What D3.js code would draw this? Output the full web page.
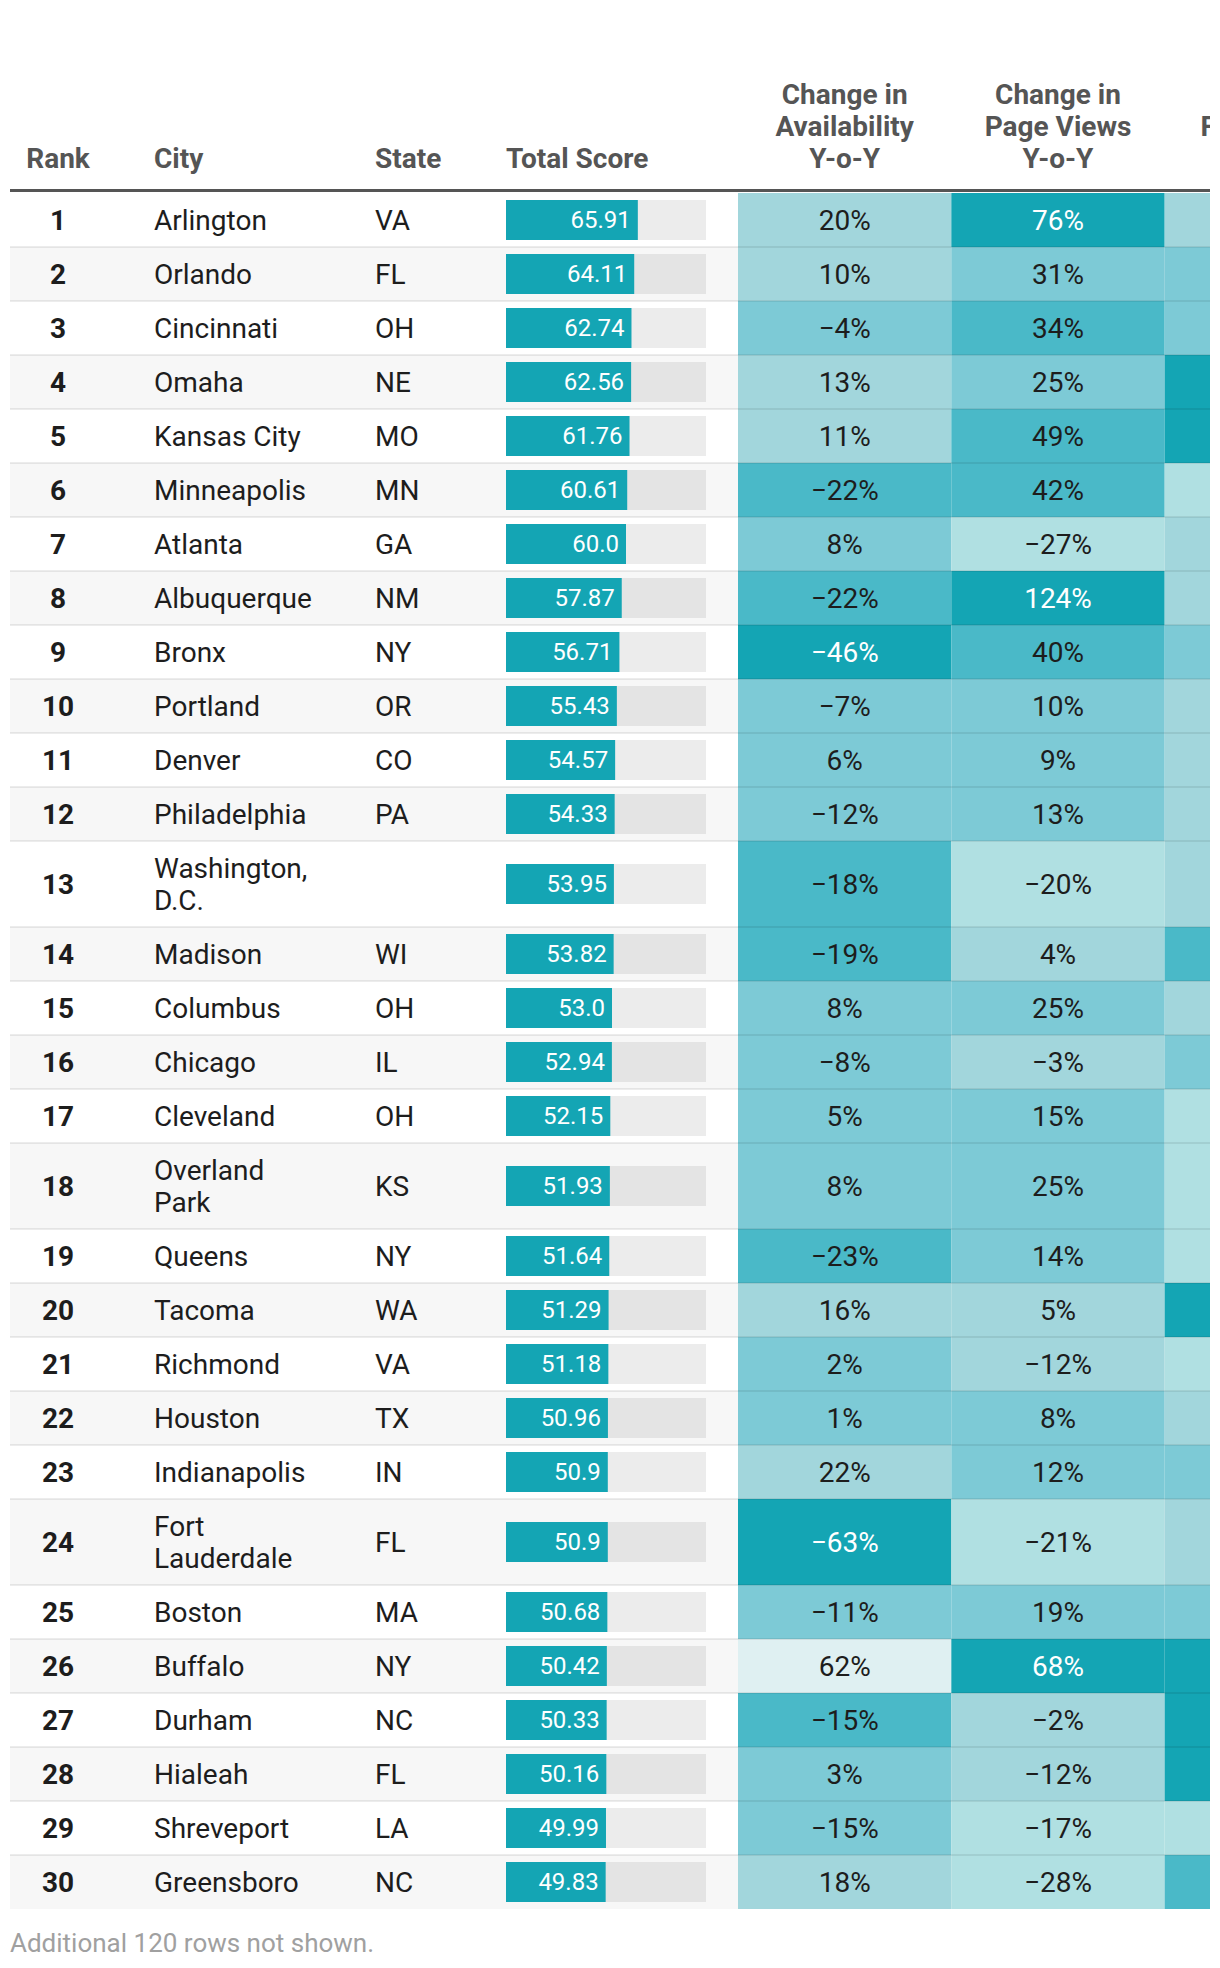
<!DOCTYPE html>
<html>
<head>
<meta charset="utf-8">
<script src="https://cdn.jsdelivr.net/npm/d3@7"></script>
<style>
  body { margin: 0; background: #ffffff; }
  svg { display: block; font-family: Roboto, "Noto Sans", "Liberation Sans", sans-serif; }
</style>
</head>
<body>
<svg id="chart" width="1220" height="1968"></svg>
<script>
// ---------------- data ----------------
const ranks = [1,2,3,4,5,6,7,8,9,10,11,12,13,14,15,16,17,18,19,20,21,22,23,24,25,26,27,28,29,30];
const cities = ["Arlington","Orlando","Cincinnati","Omaha","Kansas City","Minneapolis","Atlanta","Albuquerque","Bronx","Portland","Denver","Philadelphia","Washington, D.C.","Madison","Columbus","Chicago","Cleveland","Overland Park","Queens","Tacoma","Richmond","Houston","Indianapolis","Fort Lauderdale","Boston","Buffalo","Durham","Hialeah","Shreveport","Greensboro"];
const states = ["VA","FL","OH","NE","MO","MN","GA","NM","NY","OR","CO","PA","","WI","OH","IL","OH","KS","NY","WA","VA","TX","IN","FL","MA","NY","NC","FL","LA","NC"];
const totalScores = [65.91,64.11,62.74,62.56,61.76,60.61,60.0,57.87,56.71,55.43,54.57,54.33,53.95,53.82,53.0,52.94,52.15,51.93,51.64,51.29,51.18,50.96,50.9,50.9,50.68,50.42,50.33,50.16,49.99,49.83];
const availabilityChange = [20,10,-4,13,11,-22,8,-22,-46,-7,6,-12,-18,-19,8,-8,5,8,-23,16,2,1,22,-63,-11,62,-15.4,3,-14.6,18];
const pageViewsChange = [76,31,34,25,49,42,-27,124,40,10,9,13,-20,4,25,-3,15,25,14,5,-12,8,12,-21,19,68,-2,-12,-17,-28];
// third column is cut off at the right edge; values estimated from the visible cell shades only
const favoritesChange = [2,18,12,71,64,-22,-6,1,20,-3,4,-9,0,38,-1,9,-18,-25,-19,88,-30,3,15,-8,22,60,77,59,-17,45];
const headers = [
  {key:"rank", lines:["Rank"]},
  {key:"city", lines:["City"]},
  {key:"state", lines:["State"]},
  {key:"score", lines:["Total Score"]},
  {key:"avail", lines:["Change in","Availability","Y-o-Y"]},
  {key:"pv", lines:["Change in","Page Views","Y-o-Y"]},
  {key:"fav", lines:["Change in","Favorite Ads","Y-o-Y"]}
];
const footnote = "Additional 120 rows not shown.";

// ---------------- setup ----------------
const left = 10, right = 1210;
const svg = d3.select("#chart");
svg.append("defs").append("clipPath").attr("id","clip")
  .append("rect").attr("x", left).attr("y", 0).attr("width", right-left).attr("height", 1968);
const g = svg.append("g").attr("clip-path","url(#clip)");

const pal = {c0:"#dff0f2", c1:"#b0e0e2", c2:"#a2d6dc", c3:"#7dcad6", c4:"#4ab9c8", c5:"#14a5b4"};
const availColor = d3.scaleThreshold().domain([-30,-15,9,30,50]).range([pal.c5,pal.c4,pal.c3,pal.c2,pal.c1,pal.c0]);
const growthColor = d3.scaleThreshold().domain([-15,6,33,55]).range([pal.c1,pal.c2,pal.c3,pal.c4,pal.c5]);
const pct = d3.format(".0f");
const scoreFmt = v => Number.isInteger(v) ? v.toFixed(1) : String(v);

const xScore = d3.scaleLinear().domain([0,100]).range([506,706]);
const heatKeys = ["avail","pv","fav"];
const xHeat = d3.scaleBand().domain(heatKeys).range([738,1378]);
const headNudge = {avail:0, pv:0, fav:8};
const colX = {rank:58, city:154, state:375, score:506};

const bodySize = 28, lineH = 32, rowPad = 22, headerBottom = 191;

// measure & wrap city names
const meas = svg.append("text").attr("font-size", bodySize).attr("visibility","hidden");
function wrap(str, maxW) {
  const words = str.split(" ");
  const lines = [];
  let cur = "";
  words.forEach(w => {
    const test = cur ? cur + " " + w : w;
    meas.text(test);
    if (cur && meas.node().getComputedTextLength() > maxW) { lines.push(cur); cur = w; }
    else cur = test;
  });
  if (cur) lines.push(cur);
  return lines;
}

const rows = ranks.map((r,i) => ({
  rank:r, city:cities[i], cityLines:wrap(cities[i], 168), state:states[i], score:totalScores[i],
  avail:availabilityChange[i], pv:pageViewsChange[i], fav:favoritesChange[i]
}));
meas.remove();

let yCur = headerBottom + 2;
rows.forEach(d => { d.h = d.cityLines.length*lineH + rowPad; d.y = yCur; yCur += d.h; });
const tableBottom = yCur;

// ---------------- header ----------------
const headG = g.append("g").attr("fill","#555555").attr("font-weight",700).attr("font-size",28);
const headLineY = [94,126,158];
headers.forEach(h => {
  let x, anchor = "start";
  if (h.key === "rank") { x = colX.rank; anchor = "middle"; }
  else if (heatKeys.includes(h.key)) { x = xHeat(h.key) + xHeat.bandwidth()/2 + headNudge[h.key]; anchor = "middle"; }
  else x = colX[h.key];
  const n = h.lines.length;
  h.lines.forEach((ln,j) => {
    headG.append("text").attr("x",x).attr("y",headLineY[3-n+j]).attr("dy","0.35em")
      .attr("text-anchor",anchor).text(ln);
  });
});
g.append("rect").attr("x",left).attr("y",headerBottom-2).attr("width",right-left).attr("height",3).attr("fill","#555555");

// ---------------- rows ----------------
const rowG = g.selectAll("g.row").data(rows).join("g").attr("class","row")
  .attr("transform", d => `translate(0,${d.y})`);

rowG.append("rect").attr("x",left).attr("width",right-left).attr("height",d=>d.h)
  .attr("fill",(d,i)=> i%2===1 ? "#f7f7f7" : "#ffffff");

// heat cells
heatKeys.forEach(k => {
  const cf = k === "avail" ? availColor : growthColor;
  rowG.append("rect").attr("x",xHeat(k)).attr("width",xHeat.bandwidth()).attr("height",d=>d.h)
    .attr("fill",d=>cf(d[k]));
  if (k === "fav") return; // labels of this column lie beyond the visible edge
  rowG.append("text").attr("x",xHeat(k)+xHeat.bandwidth()/2).attr("y",d=>d.h/2).attr("dy","0.35em")
    .attr("text-anchor","middle").attr("font-size",bodySize)
    .attr("fill",d=> cf(d[k]) === pal.c5 ? "#ffffff" : "#1d1d1d")
    .text(d=>pct(d[k]) + "%");
});

// rank
rowG.append("text").attr("x",colX.rank).attr("y",d=>d.h/2).attr("dy","0.35em")
  .attr("text-anchor","middle").attr("font-weight",700).attr("font-size",bodySize).attr("fill","#1d1d1d")
  .text(d=>d.rank);
// city
rowG.append("text").attr("font-size",bodySize).attr("fill","#1d1d1d")
  .each(function(d){
    const n = d.cityLines.length;
    d3.select(this).selectAll("tspan").data(d.cityLines).join("tspan")
      .attr("x",colX.city).attr("y",(l,j)=> d.h/2 + (j-(n-1)/2)*lineH).attr("dy","0.35em").text(l=>l);
  });
// state
rowG.append("text").attr("x",colX.state).attr("y",d=>d.h/2).attr("dy","0.35em")
  .attr("font-size",bodySize).attr("fill","#1d1d1d").text(d=>d.state);
// score bar
rowG.append("rect").attr("x",xScore(0)).attr("y",d=>d.h/2-20).attr("height",40)
  .attr("width",xScore(100)-xScore(0)).attr("fill","rgba(0,0,0,0.075)");
rowG.append("rect").attr("x",xScore(0)).attr("y",d=>d.h/2-20).attr("height",40)
  .attr("width",d=>xScore(d.score)-xScore(0)).attr("fill","#14a5b4");
rowG.append("text").attr("x",d=>xScore(d.score)-7).attr("y",d=>d.h/2).attr("dy","0.35em")
  .attr("text-anchor","end").attr("font-size",24).attr("fill","#ffffff").text(d=>scoreFmt(d.score));

// separators
g.selectAll("rect.sep").data(rows.slice(1)).join("rect").attr("class","sep")
  .attr("x",left).attr("width",right-left).attr("y",d=>d.y-1).attr("height",2)
  .attr("fill","rgba(0,0,0,0.075)");

// footnote
svg.append("text").attr("x",left).attr("y",tableBottom+34).attr("dy","0.35em")
  .attr("font-size",26).attr("fill","#a0a0a0").text(footnote);
</script>
</body>
</html>
